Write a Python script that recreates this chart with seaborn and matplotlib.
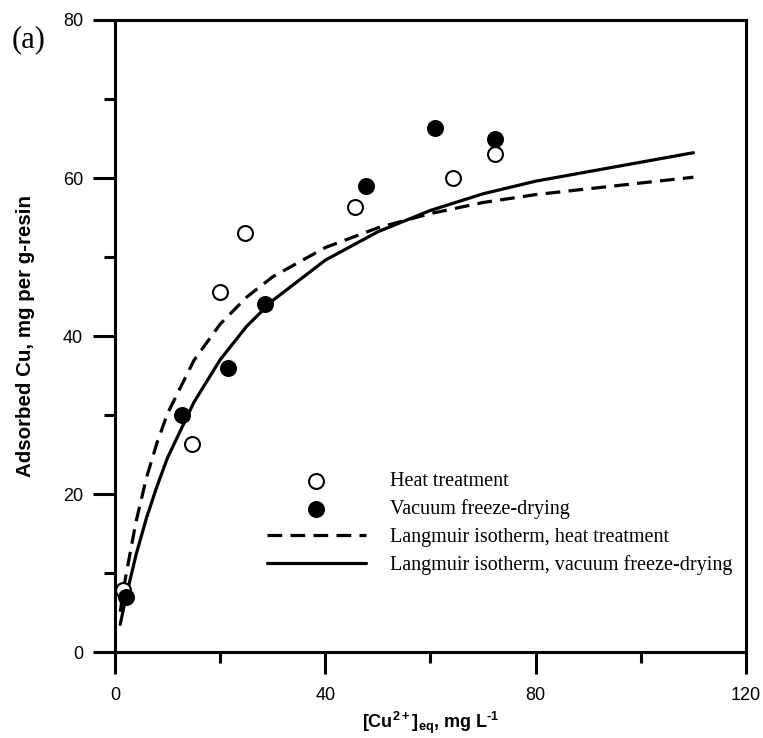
import numpy as np
import pandas as pd
import matplotlib
matplotlib.use("Agg")
import matplotlib.pyplot as plt
import seaborn as sns
from matplotlib.ticker import MultipleLocator

heat_c = [1.5, 14.7, 19.9, 24.7, 45.6, 64.3, 72.2]
heat_q = [7.8, 26.3, 45.6, 53.0, 56.3, 60.0, 63.0]
vac_c = [2.1, 12.7, 21.5, 28.5, 47.7, 60.8, 72.2]
vac_q = [7.0, 30.0, 36.0, 44.0, 59.0, 66.3, 65.0]

# Langmuir curves
fit_c = [1, 2, 4, 6, 8, 10, 15, 20, 25, 30, 40, 50, 60, 70, 80, 110]
fit_heat = [5.1, 9.4, 16.5, 22.1, 26.5, 30.2, 36.9, 41.5, 44.9, 47.5, 51.2, 53.7, 55.5, 56.9, 57.9, 60.1]
fit_vac = [3.5, 6.7, 12.3, 17.0, 21.0, 24.6, 31.6, 37.0, 41.2, 44.5, 49.6, 53.2, 55.9, 58.0, 59.6, 63.2]

sns.set_style("ticks", {"axes.edgecolor": "black", "xtick.color": "black",
                        "ytick.color": "black", "text.color": "black",
                        "axes.labelcolor": "black"})
plt.rcParams["font.family"] = ["Liberation Sans", "DejaVu Sans"]
plt.rcParams["mathtext.fontset"] = "custom"
plt.rcParams["mathtext.bf"] = "Liberation Sans:bold"
plt.rcParams["mathtext.rm"] = "Liberation Sans:bold"

df_pts_heat = pd.DataFrame({"c": heat_c, "q": heat_q})
df_pts_vac = pd.DataFrame({"c": vac_c, "q": vac_q})
df_fit = pd.DataFrame({"c": fit_c, "heat": fit_heat, "vac": fit_vac})

fig = plt.figure(figsize=(7.63, 7.38), dpi=100)
ax = fig.add_axes([0.1507, 0.1165, 0.827, 0.8564])

sns.lineplot(data=df_fit, x="c", y="heat", ax=ax, color="black", lw=2.3,
             linestyle=(0, (4.6, 2.6)), errorbar=None,
             label="Langmuir isotherm, heat treatment")
sns.lineplot(data=df_fit, x="c", y="vac", ax=ax, color="black", lw=2.3,
             errorbar=None, label="Langmuir isotherm, vacuum freeze-drying")
sns.scatterplot(data=df_pts_heat, x="c", y="q", ax=ax, color="white",
                edgecolor="black", linewidth=1.5, s=115, zorder=3,
                label="Heat treatment")
sns.scatterplot(data=df_pts_vac, x="c", y="q", ax=ax, color="black",
                edgecolor="black", linewidth=1.5, s=115, zorder=4,
                label="Vacuum freeze-drying")

ax.set_xlim(0, 120)
ax.set_ylim(0, 80)
ax.xaxis.set_major_locator(MultipleLocator(40))
ax.xaxis.set_minor_locator(MultipleLocator(20))
ax.yaxis.set_major_locator(MultipleLocator(20))
ax.yaxis.set_minor_locator(MultipleLocator(10))
ax.tick_params(which="major", length=16, width=2.2, labelsize=13, pad=7,
               top=False, right=False)
ax.tick_params(axis="x", which="major", pad=9)
ax.tick_params(which="minor", length=8, width=2.2, top=False, right=False)
for sp in ax.spines.values():
    sp.set_linewidth(2.2)

ax.set_xlabel(r"$\mathbf{[Cu^{2+}]_{eq}}$, mg L$^{\mathbf{\text{-}1}}$",
              fontsize=13, fontweight="bold", labelpad=4)
ax.set_ylabel("Adsorbed Cu, mg per g-resin", fontsize=14.8, fontweight="bold",
              labelpad=20)

h, l = ax.get_legend_handles_labels()
order = [2, 3, 0, 1]
ax.legend([h[i] for i in order], [l[i] for i in order],
          loc="upper left", bbox_to_anchor=(0.241, 0.285), frameon=False,
          borderpad=0, borderaxespad=0, handlelength=4.9, handletextpad=1.2,
          labelspacing=0.42, prop={"family": "Liberation Serif", "size": 14.5})

fig.text(0.038, 0.946, "(a)", family="Liberation Serif", fontsize=22,
         ha="center", va="center")

fig.savefig("out.png", dpi=100)
